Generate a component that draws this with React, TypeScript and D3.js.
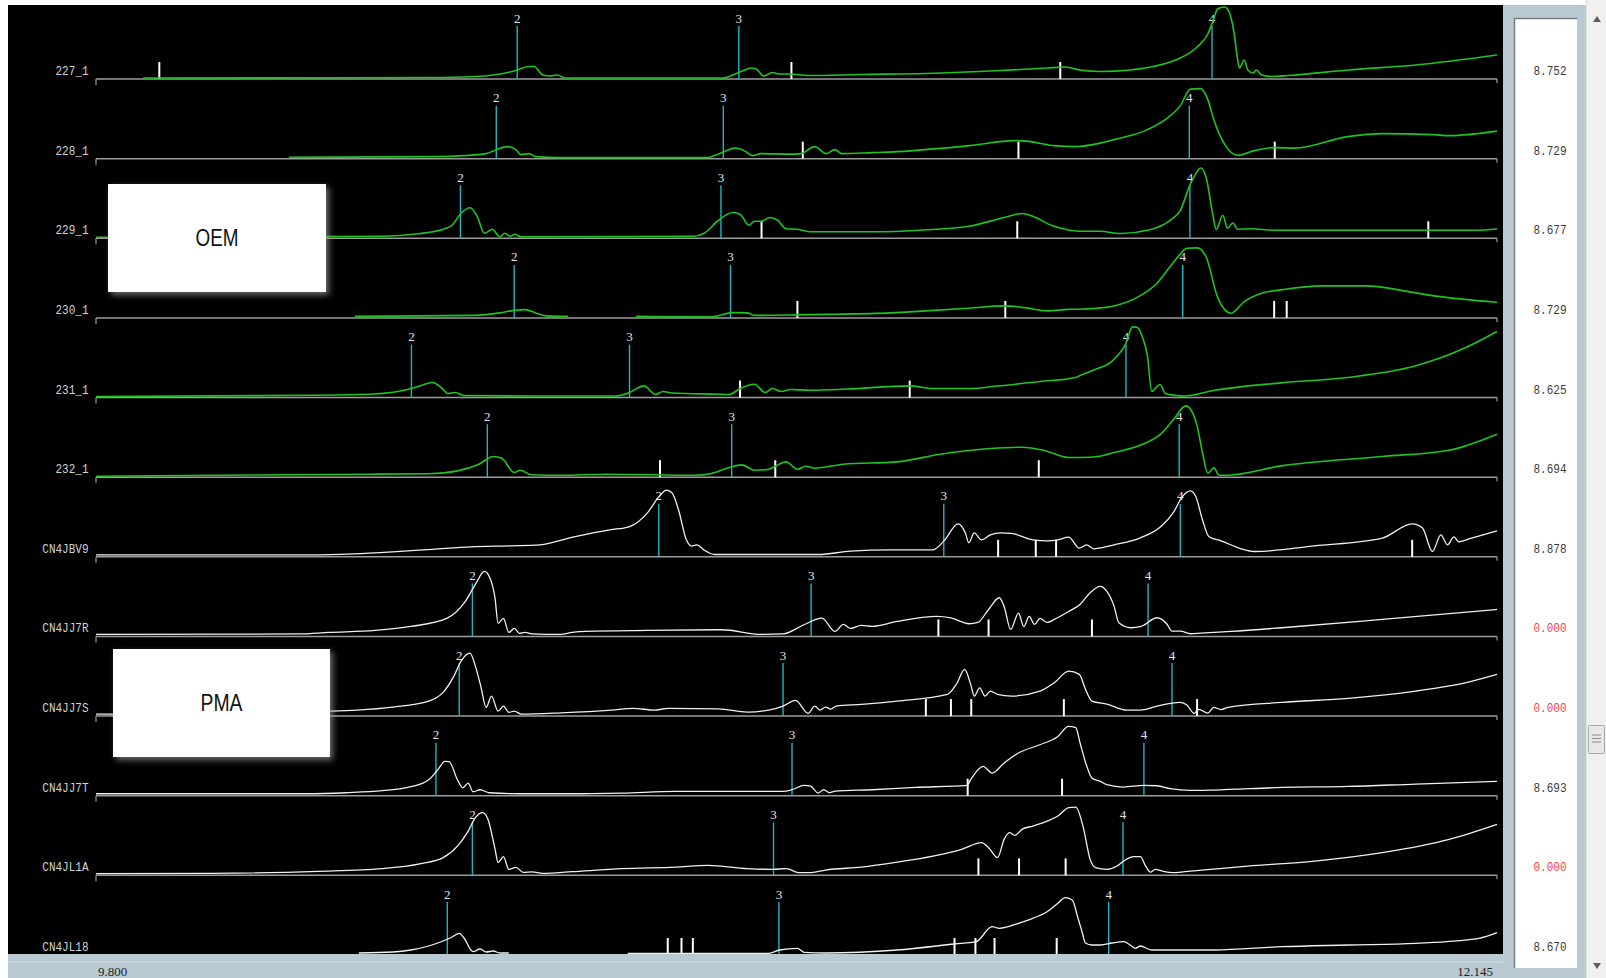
import React from "react";
import * as d3 from "d3";

type Pt = [number, number | null];

const sampleNames = ["227_1", "228_1", "229_1", "230_1", "231_1", "232_1", "CN4JBV9", "CN4JJ7R", "CN4JJ7S", "CN4JJ7T", "CN4JL1A", "CN4JL18"];
const sampleGroups = ["OEM", "OEM", "OEM", "OEM", "OEM", "OEM", "PMA", "PMA", "PMA", "PMA", "PMA", "PMA"];
const sampleValues = ["8.752", "8.729", "8.677", "8.729", "8.625", "8.694", "8.878", "0.000", "0.000", "8.693", "0.000", "8.670"];
const timeStart = 9.8;
const timeEnd = 12.145;
const timeLabels = ["9.800", "12.145"];
const groupLabels = ["OEM", "PMA"];

const trace227: Pt[] = [[9.879,1],[10.357,1.5],[10.435,2.5],[10.465,4],[10.500,8],[10.525,12.5],[10.533,12.5],[10.548,4],[10.560,3],[10.572,4],[10.585,1],[10.848,1],[10.866,4],[10.886,9],[10.897,11],[10.905,10],[10.918,3],[10.932,6.5],[10.943,5],[10.962,5],[10.991,3.5],[11.080,4.5],[11.189,5.5],[11.315,8.5],[11.392,11],[11.422,12],[11.447,9],[11.481,7.5],[11.531,9],[11.615,21],[11.643,32],[11.661,45],[11.672,62],[11.677,70],[11.689,72],[11.694,70],[11.705,46],[11.711,19],[11.714,11],[11.722,19],[11.728,9],[11.737,6],[11.742,9],[11.751,4],[11.767,2.5],[11.796,3.5],[11.896,9],[12.009,14],[12.145,24]];
const trace228: Pt[] = [[10.123,1.3],[10.369,2],[10.416,3],[10.453,5],[10.470,9],[10.488,12],[10.503,9],[10.511,4],[10.525,5],[10.536,2],[10.577,1],[10.824,1],[10.843,5],[10.871,10.5],[10.885,8],[10.899,3],[10.913,5],[10.962,4.5],[10.980,5],[11.003,12],[11.022,5],[11.037,9],[11.048,5],[11.099,6],[11.141,7],[11.262,13],[11.338,18],[11.357,17.5],[11.404,13],[11.440,12],[11.481,15.5],[11.504,19],[11.560,29],[11.592,40],[11.615,53],[11.632,69.5],[11.649,70],[11.661,59],[11.671,39],[11.688,15.5],[11.711,3.3],[11.739,8],[11.773,11],[11.807,10.5],[11.895,22],[11.953,25],[12.037,24],[12.065,23],[12.145,27.5]];
const trace229: Pt[] = [[9.800,1],[10.280,2],[10.339,4.5],[10.381,9],[10.396,13],[10.411,25],[10.426,30.5],[10.438,22],[10.450,5],[10.463,9],[10.476,1.5],[10.484,5],[10.494,2],[10.501,4],[10.511,1.5],[10.801,2],[10.818,5],[10.842,18],[10.866,25.7],[10.878,24],[10.893,13],[10.902,17],[10.913,17],[10.928,20.7],[10.941,18],[10.955,9.5],[10.974,9],[10.996,6.5],[11.106,6.5],[11.177,8],[11.261,12],[11.320,20.7],[11.350,24.7],[11.368,22],[11.399,13],[11.415,10],[11.447,7],[11.481,7],[11.515,4.7],[11.560,8],[11.598,18],[11.615,28],[11.632,54.7],[11.641,64.7],[11.649,70.3],[11.658,61.3],[11.669,24.7],[11.675,8.7],[11.686,23],[11.694,10],[11.703,15.3],[11.711,9],[11.734,9.5],[11.773,8],[12.009,8],[12.109,8],[12.145,9.3]];
const trace230: Pt[] = [[10.233,1.5],[10.435,2.5],[10.476,5],[10.500,7.5],[10.518,8.3],[10.536,5],[10.553,2],[10.590,1.5],[10.650,null],[10.704,1.5],[10.829,1],[10.866,5.3],[10.890,5],[10.902,2.5],[10.974,3],[11.022,3.5],[11.129,5],[11.189,7],[11.261,9.7],[11.320,12],[11.357,10],[11.392,7],[11.428,8.5],[11.447,8.7],[11.481,10],[11.504,12],[11.548,22.3],[11.576,34.7],[11.598,51.3],[11.615,64],[11.626,69.7],[11.643,70],[11.658,61.3],[11.677,21.3],[11.700,4.7],[11.722,16.3],[11.751,24.7],[11.784,28],[11.851,32],[11.924,32],[12.009,25],[12.037,22.3],[12.145,15.7]];
const trace231: Pt[] = [[9.800,1],[10.168,2.3],[10.264,3.5],[10.297,5.3],[10.321,8],[10.344,12],[10.363,15],[10.378,10],[10.389,4],[10.401,5],[10.416,2],[10.577,1.5],[10.669,1.5],[10.692,4.7],[10.717,11.7],[10.737,3],[10.749,6],[10.764,4.5],[10.842,3.3],[10.860,3],[10.878,9],[10.902,13.3],[10.920,5],[10.932,9],[10.947,6],[10.962,8],[10.996,7.3],[11.057,8.5],[11.162,11.7],[11.201,9],[11.261,9],[11.309,11.5],[11.380,16],[11.440,20],[11.447,22],[11.481,30],[11.493,33],[11.509,41.3],[11.523,53],[11.535,70.7],[11.543,70],[11.551,61.3],[11.560,41.3],[11.567,6.3],[11.581,13],[11.590,4],[11.609,2],[11.621,1.5],[11.672,7.3],[11.784,14.7],[11.895,20],[12.009,31.7],[12.092,49.7],[12.145,66]];
const trace232: Pt[] = [[9.800,1],[10.260,3],[10.357,3.5],[10.405,6.3],[10.441,13],[10.465,20.7],[10.479,19],[10.500,4.7],[10.510,7],[10.528,2.5],[10.577,2],[10.657,3],[10.801,2],[10.829,3.5],[10.860,9.7],[10.881,12.3],[10.902,7],[10.926,8],[10.938,11.3],[10.955,15.3],[10.974,8],[10.988,11],[11.003,9],[11.051,13],[11.141,15.3],[11.213,23],[11.297,28.7],[11.350,30],[11.386,27],[11.428,19.7],[11.447,19.7],[11.481,21],[11.504,24.7],[11.548,32],[11.582,43],[11.604,58],[11.624,71.3],[11.634,66],[11.643,51.3],[11.652,24.7],[11.661,4],[11.671,9.3],[11.680,2],[11.694,2],[11.784,11.3],[11.953,20.7],[12.065,27],[12.145,43]];
const traceJBV9: Pt[] = [[9.800,2],[10.159,2],[10.231,3],[10.297,5],[10.363,7.5],[10.428,10],[10.494,11],[10.543,12],[10.600,20],[10.660,27],[10.692,30],[10.723,44],[10.743,60.7],[10.755,66.7],[10.764,64],[10.775,47],[10.788,17.3],[10.797,10.7],[10.806,12],[10.818,6.7],[10.836,2.3],[11.009,2.3],[11.063,5.7],[11.129,7],[11.201,7],[11.219,15.7],[11.243,33],[11.255,24],[11.261,14],[11.270,24],[11.282,17],[11.297,22],[11.314,24],[11.332,23.5],[11.368,17],[11.392,16],[11.410,17],[11.428,19.7],[11.446,8.7],[11.458,12],[11.470,8],[11.481,9],[11.504,12],[11.548,19],[11.582,30],[11.604,45],[11.618,60],[11.632,66],[11.641,60],[11.652,37],[11.663,20],[11.683,16],[11.717,8],[11.739,5.3],[11.840,11],[11.953,18.7],[12.003,33],[12.020,29],[12.037,5.3],[12.051,22],[12.062,12],[12.073,20],[12.081,15],[12.098,18],[12.145,26]];
const traceJJ7R: Pt[] = [[9.800,2],[10.141,2.5],[10.189,4],[10.267,6],[10.327,10],[10.387,18],[10.417,34],[10.435,52],[10.450,65],[10.459,59],[10.468,38],[10.473,13],[10.482,18],[10.491,4],[10.500,8],[10.509,3],[10.518,4],[10.530,2.5],[10.577,2],[10.597,4],[10.620,5],[10.723,6],[10.848,6.7],[10.913,2],[10.950,2.5],[10.985,11.7],[11.015,18.3],[11.037,5],[11.051,12],[11.063,8],[11.081,11],[11.099,10],[11.141,15],[11.207,20],[11.231,18.5],[11.261,12.7],[11.276,14],[11.294,27],[11.312,38.7],[11.320,30],[11.331,7],[11.344,23.3],[11.353,10],[11.362,20],[11.371,12],[11.380,18],[11.392,14],[11.404,17],[11.428,25],[11.447,32],[11.464,43.7],[11.481,50],[11.492,45],[11.504,30.3],[11.512,13.7],[11.532,8.7],[11.549,10],[11.576,18.7],[11.593,12],[11.601,5.3],[11.615,5.3],[11.632,2.7],[11.649,3.3],[11.700,5],[11.785,8.7],[11.953,17],[12.145,27]];
const traceJJ7S: Pt[] = [[9.800,2],[9.827,2],[10.192,5],[10.237,6],[10.297,9],[10.357,15],[10.381,23.7],[10.399,40],[10.411,55],[10.426,63],[10.435,50],[10.444,30],[10.453,8.7],[10.462,20],[10.473,5],[10.482,10],[10.491,3.7],[10.500,5],[10.512,2],[10.579,3.3],[10.663,6],[10.699,7.7],[10.734,6],[10.758,7.7],[10.842,7.3],[10.890,4],[10.926,6],[10.950,10],[10.971,15.7],[10.992,2.7],[11.003,10],[11.012,6],[11.021,9],[11.030,7],[11.039,10],[11.081,11.7],[11.141,15],[11.225,21.7],[11.240,31.7],[11.254,46.7],[11.264,31.7],[11.270,20],[11.279,28.3],[11.288,20],[11.297,25],[11.309,21.7],[11.332,20],[11.380,25],[11.404,33.3],[11.428,45],[11.446,41.7],[11.456,27],[11.467,15],[11.492,12],[11.526,6],[11.548,6],[11.576,10],[11.615,13.7],[11.626,11],[11.638,2.7],[11.646,6.7],[11.661,3],[11.671,8.7],[11.683,6.5],[11.695,8.7],[11.785,13.7],[11.896,17.7],[12.009,25],[12.092,33.3],[12.145,41.7]];
const traceJJ7T: Pt[] = [[9.800,2],[10.153,2],[10.219,3],[10.279,5],[10.327,9],[10.357,16],[10.372,26],[10.384,34.3],[10.391,34],[10.405,16],[10.414,8],[10.423,12.7],[10.431,4],[10.443,6],[10.458,3],[10.511,2],[10.591,2],[10.681,2.7],[10.770,4.3],[10.950,4.3],[10.965,6],[10.985,10.3],[10.996,9.5],[11.009,2.7],[11.018,6],[11.028,3],[11.037,4.5],[11.099,6],[11.171,8.3],[11.258,10.3],[11.264,16],[11.285,29.3],[11.300,22.7],[11.320,32.7],[11.344,42.7],[11.380,51],[11.410,59.3],[11.428,69.3],[11.440,68],[11.447,53],[11.457,32],[11.467,17.7],[11.481,14.3],[11.492,11],[11.520,8.7],[11.554,10.3],[11.576,10],[11.598,7],[11.632,5.3],[11.671,5.7],[11.785,8.3],[11.896,9.3],[12.009,11.7],[12.145,14.3]];
const traceJL1A: Pt[] = [[9.800,1.7],[9.992,2],[10.171,4],[10.279,6.7],[10.344,11.7],[10.381,17.7],[10.405,29.3],[10.423,44.3],[10.435,57.7],[10.447,62.7],[10.456,56],[10.468,26],[10.473,12.7],[10.482,18.7],[10.491,6],[10.503,8],[10.515,3],[10.530,3.5],[10.548,2],[10.597,3.7],[10.681,6.7],[10.770,8.3],[10.824,10],[10.890,6.7],[10.932,6],[10.956,6.7],[10.976,2.7],[10.997,2.7],[11.021,5.3],[11.081,8.3],[11.141,13.3],[11.201,19.3],[11.249,26],[11.282,32.7],[11.294,27.7],[11.309,17.7],[11.320,36],[11.329,42.7],[11.338,40],[11.350,46],[11.368,49.3],[11.392,54.3],[11.410,59.3],[11.428,67.7],[11.440,68.3],[11.452,49.3],[11.464,16],[11.473,7.7],[11.492,6],[11.509,9.3],[11.520,14.3],[11.537,18.7],[11.548,18.7],[11.557,9.3],[11.565,3.3],[11.573,6],[11.586,4],[11.604,2.7],[11.632,4.3],[11.728,9.3],[11.840,14.3],[11.953,22.7],[12.065,36],[12.145,51]];
const traceJL18: Pt[] = [[10.240,2],[10.297,3],[10.327,5],[10.357,9],[10.381,14],[10.393,17],[10.408,21.7],[10.416,17],[10.431,3.3],[10.443,6],[10.453,3],[10.465,4],[10.476,2],[10.491,2],[10.550,null],[10.690,1.7],[10.926,1.7],[10.944,5],[10.974,6.7],[10.985,2.7],[11.021,2],[11.141,5],[11.237,11],[11.273,13.3],[11.300,28.3],[11.312,26.7],[11.344,31.7],[11.368,36.7],[11.392,43.3],[11.410,51.7],[11.422,57.3],[11.434,55],[11.443,38.3],[11.451,22],[11.456,12],[11.467,10],[11.481,10],[11.501,12],[11.520,13.3],[11.531,10],[11.540,6.7],[11.548,9],[11.567,5],[11.671,5],[11.785,8.3],[11.896,10],[12.009,11.7],[12.115,16.7],[12.145,22.3]];

const traces: Pt[][] = [trace227, trace228, trace229, trace230, trace231, trace232, traceJBV9, traceJJ7R, traceJJ7S, traceJJ7T, traceJL1A, traceJL18];

const peak2 = [10.505, 10.470, 10.410, 10.500, 10.328, 10.455, 10.742, 10.430, 10.408, 10.369, 10.430, 10.388];
const peak3 = [10.876, 10.850, 10.846, 10.862, 10.693, 10.864, 11.219, 10.997, 10.950, 10.965, 10.934, 10.943];
const peak4 = [11.668, 11.630, 11.631, 11.619, 11.524, 11.613, 11.615, 11.561, 11.601, 11.554, 11.519, 11.495];
const peakNames = ["2", "3", "4"];

const markers: number[][] = [
  [9.906, 10.964, 11.414],
  [10.983, 11.344, 11.773],
  [10.914, 11.342, 12.030],
  [10.974, 11.322, 11.772, 11.793],
  [10.878, 11.162],
  [10.744, 10.937, 11.378],
  [11.310, 11.373, 11.407, 12.003],
  [11.210, 11.294, 11.467],
  [11.189, 11.231, 11.265, 11.420, 11.643],
  [11.259, 11.417],
  [11.277, 11.345, 11.423],
  [10.757, 10.780, 10.799, 11.237, 11.272, 11.304, 11.408],
];

const PANEL = "#b9cad3";

export default function App() {
  const x = d3.scaleLinear().domain([timeStart, timeEnd]).range([96, 1497]);
  const rowBase = d3.scaleLinear().domain([0, sampleNames.length - 1]).range([79, 955]);
  const amp = d3.scaleLinear().domain([0, 80]).range([0, 80]);

  const boxes = [
    { label: groupLabels[0], x: 108, y: 184, w: 218, h: 108, len: 43 },
    { label: groupLabels[1], x: 113, y: 649, w: 217, h: 108, len: 42 },
  ];

  return (
    <div>
      <style>{`body{margin:0;overflow:hidden;background:#fff}`}</style>
      <svg width={1606} height={978} style={{ display: "block" }}>
        <defs>
          <clipPath id="plotClip">
            <rect x={8} y={5} width={1495} height={949} />
          </clipPath>
          <filter id="shadow" x="-10%" y="-10%" width="130%" height="130%">
            <feDropShadow dx="3" dy="3" stdDeviation="3" floodColor="#9a9a9a" floodOpacity="0.7" />
          </filter>
        </defs>
        <rect x={0} y={0} width={1606} height={978} fill="#ffffff" />
        <rect x={8} y={5} width={1495} height={973} fill="#000000" />

        <g clipPath="url(#plotClip)">
          {traces.map((tr, i) => {
            const base = rowBase(i);
            const green = sampleGroups[i] === "OEM";
            const line = d3
              .line<Pt>()
              .defined((d) => d[1] !== null)
              .x((d) => x(d[0]))
              .y((d) => base - amp(d[1] as number))
              .curve(d3.curveMonotoneX);
            const peaks = [peak2[i], peak3[i], peak4[i]];
            return (
              <g key={i}>
                <line x1={x(timeStart)} x2={x(timeEnd)} y1={base} y2={base} stroke="#9c9c9c" strokeWidth={1.5} />
                <line x1={x(timeStart)} x2={x(timeStart)} y1={base} y2={base + 6} stroke="#9c9c9c" strokeWidth={1.2} />
                <line x1={x(timeEnd)} x2={x(timeEnd)} y1={base} y2={base + 4} stroke="#9c9c9c" strokeWidth={1.2} />
                {peaks.map((p, k) => (
                  <g key={k}>
                    <line x1={x(p)} x2={x(p)} y1={base} y2={base - 53} stroke="#1cb6c6" strokeWidth={1.4} />
                    <text x={x(p)} y={base - 56.5} textAnchor="middle" fontFamily="Liberation Serif" fontSize={13} fill="#e4e4e4">
                      {peakNames[k]}
                    </text>
                  </g>
                ))}
                {markers[i].map((m, k) => (
                  <line key={k} x1={x(m)} x2={x(m)} y1={base} y2={base - 17} stroke="#ffffff" strokeWidth={2} />
                ))}
                <path d={line(tr) || ""} fill="none" stroke={green ? "#1fc41f" : "#f0f0f0"} strokeWidth={green ? 1.6 : 1.3} strokeLinejoin="round" />
                <text
                  x={88.5}
                  y={base - 4}
                  textAnchor="end"
                  fontFamily="Liberation Mono"
                  fontSize={13}
                  fill="#d2d2d2"
                  textLength={sampleNames[i].length * 6.6}
                  lengthAdjust="spacingAndGlyphs"
                >
                  {sampleNames[i]}
                </text>
              </g>
            );
          })}
        </g>

        {boxes.map((b, i) => (
          <g key={i}>
            <rect x={b.x} y={b.y} width={b.w} height={b.h} fill="#ffffff" filter="url(#shadow)" />
            <text
              x={b.x + b.w / 2}
              y={b.y + 62}
              textAnchor="middle"
              fontFamily="Liberation Sans, Arial, sans-serif"
              fontSize={23}
              fill="#111"
              textLength={b.len}
              lengthAdjust="spacingAndGlyphs"
            >
              {b.label}
            </text>
          </g>
        ))}

        {/* bottom time bar */}
        <rect x={8} y={954} width={1495} height={24} fill={PANEL} />
        <line x1={8} x2={1503} y1={962} y2={962} stroke="#d3dfe5" strokeWidth={1} />
        <text x={x(timeStart) + 2} y={976} fontFamily="Liberation Serif" fontSize={13} fill="#222">{timeLabels[0]}</text>
        <text x={x(timeEnd) - 4} y={976} textAnchor="end" fontFamily="Liberation Serif" fontSize={13} fill="#222">{timeLabels[1]}</text>

        {/* right value panel */}
        <rect x={1503} y={5} width={83} height={973} fill={PANEL} />
        <rect x={1514} y={18} width={63} height={950} fill="#ffffff" />
        <line x1={1514.5} x2={1514.5} y1={18} y2={968} stroke="#7c7c7c" strokeWidth={1.5} />
        <line x1={1514} x2={1577} y1={18.5} y2={18.5} stroke="#7c7c7c" strokeWidth={1.5} />
        {sampleValues.map((v, i) => (
          <text
            key={i}
            x={1550}
            y={rowBase(i) - 4}
            textAnchor="middle"
            fontFamily="Liberation Mono"
            fontSize={13}
            fill={v === "0.000" ? "#ff3b46" : "#3a3a3a"}
            textLength={v.length * 6.6}
            lengthAdjust="spacingAndGlyphs"
          >
            {v}
          </text>
        ))}

        {/* scrollbar */}
        <rect x={1586} y={0} width={20} height={978} fill="#f0f0f0" />
        <line x1={1586.5} x2={1586.5} y1={0} y2={978} stroke="#e2e2e2" />
        <path d="M1593,22 L1597,16 L1601,22 Z" fill="#606060" />
        <path d="M1593,963 L1597,969 L1601,963 Z" fill="#606060" />
        <rect x={1588.5} y={725.5} width={16} height={28} rx={1} fill="#e8e8e8" stroke="#a8a8a8" />
        {[735, 738.5, 742].map((yy, k) => (
          <line key={k} x1={1592} x2={1601} y1={yy} y2={yy} stroke="#8a8a8a" strokeWidth={1} />
        ))}
      </svg>
    </div>
  );
}
